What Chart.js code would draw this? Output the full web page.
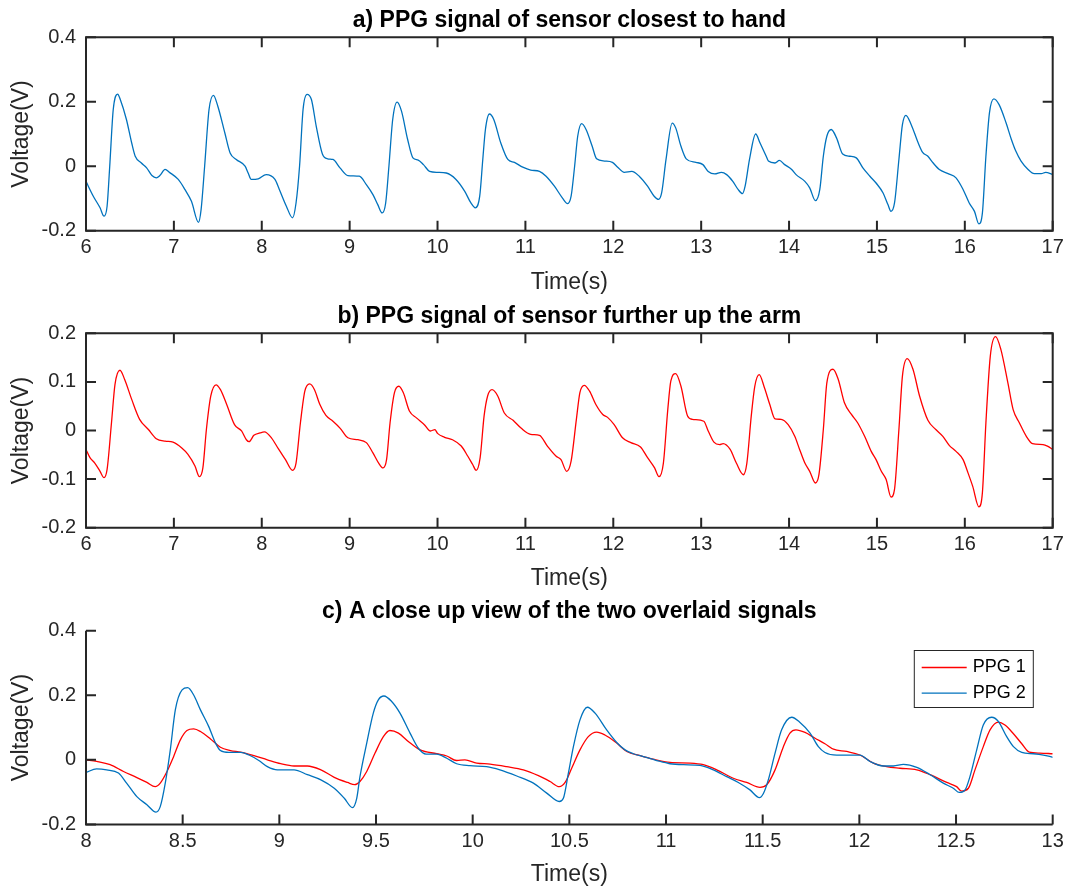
<!DOCTYPE html>
<html>
<head>
<meta charset="utf-8">
<script src="https://cdn.jsdelivr.net/npm/chart.js@4.4.0/dist/chart.umd.min.js"></script>
<style>
  html, body { margin: 0; padding: 0; background: #fff; }
  #wrap { position: relative; width: 1069px; height: 892px; }
  #wrap canvas { position: absolute; left: 0; }
</style>
</head>
<body>
<div id="wrap">
  <canvas id="chartA" width="1069" height="297" style="top:0px"></canvas>
  <canvas id="chartB" width="1069" height="297" style="top:297px"></canvas>
  <canvas id="chartC" width="1069" height="298" style="top:594px"></canvas>
</div>
<script>
// ---------------- Data ----------------
// a) sensor closest to hand
var handTime = [6.0,6.083,6.16,6.205,6.24,6.27,6.31,6.36,6.39,6.46,6.52,6.56,6.63,6.69,6.75,6.80,6.84,6.90,6.95,7.05,
  7.125,7.20,7.28,7.31,7.35,7.40,7.45,7.50,7.58,7.64,7.71,7.81,7.845,7.88,7.96,8.05,8.15,8.20,8.28,8.35,
  8.39,8.43,8.47,8.515,8.565,8.62,8.69,8.75,8.81,8.89,8.98,9.11,9.19,9.265,9.32,9.37,9.41,9.447,9.49,9.54,
  9.59,9.66,9.72,9.78,9.84,9.91,10.0,10.10,10.21,10.31,10.38,10.43,10.48,10.515,10.545,10.59,10.64,10.72,10.80,10.875,
  10.97,11.06,11.16,11.235,11.33,11.42,11.48,11.52,11.56,11.595,11.64,11.69,11.76,11.81,11.90,11.99,12.05,12.125,12.21,12.295,
  12.39,12.465,12.515,12.55,12.60,12.67,12.71,12.77,12.83,12.94,13.02,13.08,13.155,13.23,13.29,13.36,13.42,13.47,13.50,13.55,
  13.62,13.67,13.74,13.765,13.84,13.89,13.95,14.03,14.08,14.18,14.235,14.30,14.35,14.39,14.43,14.48,14.54,14.61,14.69,14.765,
  14.84,14.92,14.99,15.07,15.125,15.16,15.20,15.25,15.29,15.33,15.39,15.47,15.52,15.58,15.64,15.71,15.81,15.90,15.98,16.05,
  16.11,16.16,16.20,16.24,16.28,16.33,16.39,16.47,16.53,16.58,16.64,16.72,16.79,16.87,16.92,17.0];
var handVolt = [-0.047,-0.093,-0.129,-0.155,-0.124,0,0.176,0.224,0.207,0.145,0.072,0.031,0.010,-0.005,-0.029,-0.036,-0.029,-0.010,-0.019,-0.041,
  -0.072,-0.109,-0.174,-0.134,0,0.176,0.220,0.186,0.103,0.041,0.021,0,-0.021,-0.041,-0.039,-0.026,-0.041,-0.072,-0.124,-0.160,
  -0.114,0,0.176,0.223,0.207,0.124,0.038,0.023,0.021,-0.005,-0.029,-0.031,-0.057,-0.088,-0.119,-0.145,-0.114,0,0.145,0.199,
  0.171,0.083,0.026,0.019,0.005,-0.016,-0.019,-0.021,-0.041,-0.078,-0.114,-0.129,-0.093,0.021,0.114,0.162,0.145,0.072,0.021,0.012,
  -0.003,-0.012,-0.016,-0.031,-0.062,-0.098,-0.116,-0.093,0,0.093,0.132,0.114,0.062,0.023,0.016,0.012,-0.003,-0.019,-0.016,-0.031,
  -0.062,-0.093,-0.103,-0.083,0.021,0.134,0.119,0.062,0.023,0.012,0.005,-0.016,-0.024,-0.019,-0.026,-0.047,-0.072,-0.085,-0.062,0.021,
  0.100,0.072,0.031,0.016,0.010,0.018,0.005,-0.010,-0.026,-0.047,-0.067,-0.107,-0.072,0.031,0.093,0.114,0.088,0.038,0.031,0.026,
  -0.005,-0.031,-0.052,-0.083,-0.119,-0.140,-0.114,0.021,0.129,0.158,0.129,0.072,0.043,0.031,0.010,-0.010,-0.023,-0.036,-0.072,-0.114,
  -0.140,-0.179,-0.145,0.031,0.165,0.209,0.191,0.134,0.083,0.047,0.016,-0.010,-0.023,-0.023,-0.019,-0.026];

// b) sensor further up the arm
var armTime = [6.0,6.045,6.10,6.16,6.205,6.24,6.29,6.33,6.386,6.44,6.52,6.61,6.71,6.80,6.90,6.99,7.09,7.16,7.24,7.29,
  7.33,7.37,7.42,7.48,7.53,7.60,7.69,7.77,7.825,7.856,7.91,7.98,8.03,8.11,8.19,8.27,8.35,8.39,8.44,8.49,
  8.545,8.60,8.66,8.73,8.81,8.89,8.98,9.095,9.19,9.265,9.33,9.38,9.42,9.46,9.51,9.56,9.61,9.68,9.76,9.85,
  9.92,9.97,10.0,10.08,10.17,10.27,10.345,10.40,10.44,10.485,10.53,10.57,10.62,10.685,10.76,10.86,10.95,11.06,11.16,11.25,
  11.35,11.405,11.47,11.52,11.58,11.62,11.67,11.73,11.80,11.88,11.935,12.01,12.105,12.20,12.31,12.39,12.47,12.52,12.57,12.62,
  12.655,12.71,12.77,12.845,12.90,13.03,13.08,13.145,13.21,13.25,13.33,13.40,13.48,13.52,13.57,13.61,13.66,13.72,13.78,13.84,
  13.91,13.99,14.065,14.12,14.18,14.235,14.30,14.34,14.39,14.43,14.50,14.56,14.63,14.71,14.78,14.86,14.935,14.99,15.05,15.105,
  15.16,15.20,15.25,15.29,15.345,15.41,15.485,15.58,15.67,15.75,15.825,15.90,15.98,16.03,16.09,16.16,16.20,16.24,16.29,16.35,
  16.41,16.49,16.55,16.62,16.70,16.77,16.89,16.94,17.0];
var armVolt = [-0.039,-0.056,-0.067,-0.084,-0.097,-0.080,0.016,0.095,0.124,0.105,0.064,0.023,0.002,-0.017,-0.022,-0.024,-0.036,-0.049,-0.073,-0.095,
  -0.077,0.002,0.071,0.094,0.084,0.054,0.012,-0.001,-0.019,-0.023,-0.010,-0.005,-0.003,-0.015,-0.038,-0.060,-0.082,-0.067,0.016,0.081,
  0.096,0.084,0.054,0.031,0.019,0.005,-0.015,-0.019,-0.025,-0.046,-0.067,-0.077,-0.060,0.016,0.078,0.091,0.078,0.040,0.026,0.012,
  -0.001,0.002,-0.006,-0.014,-0.019,-0.032,-0.053,-0.070,-0.082,-0.056,0.030,0.071,0.084,0.071,0.036,0.021,0.005,-0.008,-0.010,-0.032,
  -0.053,-0.060,-0.084,-0.063,0.023,0.078,0.093,0.081,0.054,0.033,0.027,0.012,-0.015,-0.025,-0.034,-0.056,-0.077,-0.095,-0.067,0.043,
  0.102,0.117,0.091,0.030,0.023,0.019,-0.001,-0.024,-0.029,-0.027,-0.039,-0.067,-0.091,-0.067,0.030,0.091,0.115,0.088,0.054,0.024,
  0.023,0.012,-0.012,-0.039,-0.067,-0.084,-0.108,-0.091,0.002,0.098,0.126,0.105,0.057,0.033,0.016,-0.012,-0.043,-0.060,-0.084,-0.101,
  -0.137,-0.121,0.002,0.112,0.148,0.126,0.071,0.021,0.002,-0.012,-0.031,-0.043,-0.060,-0.084,-0.115,-0.157,-0.128,0.016,0.153,0.193,
  0.167,0.098,0.043,0.016,-0.012,-0.027,-0.029,-0.032,-0.039];

// c) close-up, PPG 1 (red)
var closeTime1 = [8.0,8.055,8.125,8.194,8.263,8.315,8.358,8.384,8.419,8.453,8.488,8.522,8.557,8.592,8.644,8.695,8.747,8.80,8.869,8.938,
  9.007,9.076,9.145,9.215,9.284,9.353,9.39,9.417,9.452,9.495,9.538,9.572,9.616,9.667,9.728,9.814,9.866,9.917,9.96,10.021,
  10.09,10.176,10.262,10.34,10.40,10.448,10.478,10.512,10.555,10.598,10.641,10.684,10.745,10.797,10.866,10.934,11.021,11.124,11.193,11.262,
  11.348,11.417,11.486,11.521,11.564,11.607,11.641,11.672,11.719,11.771,11.822,11.866,11.934,12.003,12.072,12.141,12.21,12.297,12.366,12.452,
  12.503,12.529,12.564,12.598,12.641,12.676,12.719,12.753,12.797,12.84,12.879,12.934,13.0];
var closePPG1 = [0.0,-0.005,-0.015,-0.036,-0.055,-0.070,-0.083,-0.072,-0.036,0.010,0.062,0.091,0.096,0.088,0.065,0.039,0.029,0.024,0.013,0.0,
  -0.012,-0.019,-0.019,-0.031,-0.054,-0.070,-0.077,-0.067,-0.036,0.021,0.072,0.091,0.083,0.057,0.031,0.019,0.012,-0.002,0.0,-0.010,
  -0.013,-0.021,-0.031,-0.049,-0.067,-0.083,-0.070,-0.026,0.031,0.072,0.086,0.077,0.052,0.026,0.013,0.002,-0.008,-0.010,-0.015,-0.031,
  -0.057,-0.070,-0.085,-0.077,-0.031,0.041,0.083,0.093,0.085,0.067,0.050,0.033,0.026,0.015,-0.010,-0.021,-0.026,-0.031,-0.046,-0.070,
  -0.083,-0.097,-0.088,-0.031,0.041,0.093,0.117,0.108,0.081,0.050,0.024,0.021,0.019];

// c) close-up, PPG 2 (blue)
var closeTime2 = [8.0,8.055,8.107,8.168,8.21,8.263,8.315,8.362,8.384,8.41,8.436,8.462,8.497,8.526,8.557,8.592,8.635,8.67,8.695,8.739,
  8.80,8.843,8.894,8.938,8.99,9.076,9.145,9.215,9.284,9.336,9.378,9.40,9.417,9.452,9.486,9.512,9.541,9.581,9.624,9.676,
  9.719,9.759,9.814,9.866,9.917,9.986,10.072,10.141,10.228,10.314,10.383,10.448,10.469,10.495,10.521,10.555,10.593,10.633,10.693,10.745,
  10.788,10.831,10.883,10.952,11.021,11.09,11.176,11.245,11.314,11.374,11.434,11.483,11.503,11.529,11.564,11.598,11.65,11.693,11.745,11.788,
  11.822,11.883,11.952,12.003,12.055,12.124,12.176,12.228,12.297,12.366,12.434,12.486,12.517,12.547,12.572,12.607,12.641,12.684,12.719,12.762,
  12.797,12.84,12.9,12.952,13.0];
var closePPG2 = [-0.039,-0.028,-0.031,-0.041,-0.072,-0.114,-0.139,-0.162,-0.145,-0.072,0.031,0.155,0.217,0.224,0.201,0.155,0.103,0.052,0.029,0.023,
  0.023,0.015,-0.002,-0.021,-0.031,-0.031,-0.046,-0.062,-0.088,-0.119,-0.148,-0.120,-0.052,0.052,0.145,0.186,0.198,0.181,0.145,0.083,
  0.036,0.018,0.018,0.005,-0.012,-0.018,-0.021,-0.031,-0.050,-0.072,-0.103,-0.129,-0.119,-0.041,0.041,0.124,0.163,0.145,0.093,0.054,
  0.031,0.019,0.010,-0.002,-0.012,-0.015,-0.017,-0.031,-0.052,-0.070,-0.093,-0.117,-0.105,-0.062,0.021,0.093,0.132,0.116,0.083,0.041,
  0.023,0.015,0.015,0.015,-0.005,-0.019,-0.019,-0.014,-0.023,-0.046,-0.072,-0.088,-0.101,-0.093,-0.052,0.031,0.108,0.132,0.119,0.072,
  0.041,0.023,0.019,0.015,0.008];

// Axis ticks
var ticksTimeAB = [6,7,8,9,10,11,12,13,14,15,16,17];
var ticksTimeC = [8,8.5,9,9.5,10,10.5,11,11.5,12,12.5,13];
var ticksVoltA = [-0.2,0,0.2,0.4];
var ticksVoltB = [-0.2,-0.1,0,0.1,0.2];
var ticksVoltC = [-0.2,0,0.2,0.4];

// Colours
var blue = '#0072BD';
var red = '#FF0000';
var ink = '#262626';

Chart.defaults.font.family = '"Liberation Sans", Arial, Helvetica, sans-serif';

function pts(xs, ys) {
  return xs.map(function (t, i) { return {x: t, y: ys[i]}; });
}
function fmt(v) {
  return String(Math.round(v * 100) / 100);
}

// ---------------- Box, inward ticks and legend ----------------
var framePlugin = {
  id: 'frame',
  afterDraw: function (chart, args, opts) {
    var ctx = chart.ctx, a = chart.chartArea;
    var xs = chart.scales.x, ys = chart.scales.y;
    var len = 10;
    ctx.save();
    ctx.strokeStyle = ink;
    ctx.lineWidth = 2;
    ctx.beginPath();
    if (opts.box) {
      ctx.rect(a.left, a.top, a.right - a.left, a.bottom - a.top);
    } else {
      ctx.moveTo(a.left, a.top);
      ctx.lineTo(a.left, a.bottom);
      ctx.lineTo(a.right, a.bottom);
    }
    ctx.stroke();
    ctx.beginPath();
    xs.ticks.forEach(function (t) {
      var px = xs.getPixelForValue(t.value);
      ctx.moveTo(px, a.bottom); ctx.lineTo(px, a.bottom - len);
      if (opts.box) { ctx.moveTo(px, a.top); ctx.lineTo(px, a.top + len); }
    });
    ys.ticks.forEach(function (t) {
      var py = ys.getPixelForValue(t.value);
      ctx.moveTo(a.left, py); ctx.lineTo(a.left + len, py);
      if (opts.box) { ctx.moveTo(a.right, py); ctx.lineTo(a.right - len, py); }
    });
    ctx.stroke();

    if (opts.legend) {
      var bw = 119, bh = 57;
      var bx = a.right - 19.4 - bw, by = a.top + 19.7;
      ctx.fillStyle = '#fff';
      ctx.fillRect(bx, by, bw, bh);
      ctx.lineWidth = 1;
      ctx.strokeStyle = ink;
      ctx.strokeRect(bx, by, bw, bh);
      ctx.font = '18px "Liberation Sans", Arial, sans-serif';
      ctx.textBaseline = 'middle';
      ctx.textAlign = 'left';
      chart.data.datasets.forEach(function (ds, i) {
        var cy = by + 17 + i * 25.6;
        ctx.strokeStyle = ds.borderColor;
        ctx.lineWidth = 1.3;
        ctx.beginPath();
        ctx.moveTo(bx + 7.4, cy); ctx.lineTo(bx + 52.4, cy);
        ctx.stroke();
        ctx.fillStyle = '#000';
        ctx.fillText(ds.label, bx + 58.4, cy);
      });
    }
    ctx.restore();
  }
};

// ---------------- Panels ----------------
function makePanel(id, p) {
  return new Chart(document.getElementById(id), {
    type: 'line',
    data: { datasets: p.datasets },
    options: {
      responsive: false,
      animation: false,
      events: [],
      layout: { padding: { left: 0, right: 16.3, top: 0, bottom: 0 } },
      elements: {
        point: { radius: 0 },
        line: { borderWidth: 1.3, cubicInterpolationMode: 'monotone' }
      },
      plugins: {
        legend: { display: false },
        tooltip: { enabled: false },
        frame: { box: p.box, legend: p.legend }
      },
      scales: {
        x: {
          type: 'linear', position: 'bottom', min: p.xTicks[0], max: p.xTicks[p.xTicks.length - 1],
          afterBuildTicks: function (s) { s.ticks = p.xTicks.map(function (v) { return {value: v}; }); },
          afterFit: function (s) { s.height = p.height - p.caBottom; },
          grid: { display: false, drawTicks: false },
          border: { display: false },
          ticks: { autoSkip: false, maxRotation: 0, padding: 5, color: ink, font: { size: 20 }, callback: fmt },
          title: { display: true, text: 'Time(s)', color: ink, font: { size: 23 }, padding: { top: 0, bottom: p.xTitlePad } }
        },
        xTop: {
          type: 'linear', axis: 'x', position: 'top', min: p.xTicks[0], max: p.xTicks[p.xTicks.length - 1],
          afterFit: function (s) { s.height = p.caTop; },
          grid: { display: false, drawTicks: false },
          border: { display: false },
          ticks: { display: false },
          title: { display: true, text: p.title, color: '#000', font: { size: 23, weight: 'bold' }, padding: { top: p.titlePad, bottom: 0 } }
        },
        y: {
          type: 'linear', min: p.yTicks[0], max: p.yTicks[p.yTicks.length - 1],
          afterBuildTicks: function (s) { s.ticks = p.yTicks.map(function (v) { return {value: v}; }); },
          afterFit: function (s) { s.width = 86; },
          grid: { display: false, drawTicks: false },
          border: { display: false },
          ticks: { autoSkip: false, padding: 10, color: ink, font: { size: 20 }, callback: fmt },
          title: { display: true, text: 'Voltage(V)', color: ink, font: { size: 23 }, padding: { top: 8, bottom: 0 } }
        }
      }
    },
    plugins: [framePlugin]
  });
}

makePanel('chartA', {
  title: 'a) PPG signal of sensor closest to hand',
  height: 297, caTop: 37.3, caBottom: 230.7, titlePad: 6.5, xTitlePad: 0.2,
  xTicks: ticksTimeAB, yTicks: ticksVoltA, box: true, legend: false,
  datasets: [{ label: 'PPG 2', data: pts(handTime, handVolt), borderColor: blue }]
});

makePanel('chartB', {
  title: 'b) PPG signal of sensor further up the arm',
  height: 297, caTop: 36.3, caBottom: 230.7, titlePad: 5.4, xTitlePad: 1.4,
  xTicks: ticksTimeAB, yTicks: ticksVoltB, box: true, legend: false,
  datasets: [{ label: 'PPG 1', data: pts(armTime, armVolt), borderColor: red }]
});

makePanel('chartC', {
  title: 'c) A close up view of the two overlaid signals',
  height: 298, caTop: 36.8, caBottom: 230.4, titlePad: 3.7, xTitlePad: 3.4,
  xTicks: ticksTimeC, yTicks: ticksVoltC, box: false, legend: true,
  datasets: [
    { label: 'PPG 1', data: pts(closeTime1, closePPG1), borderColor: red, order: 1 },
    { label: 'PPG 2', data: pts(closeTime2, closePPG2), borderColor: blue, order: 0 }
  ]
});
</script>
</body>
</html>
